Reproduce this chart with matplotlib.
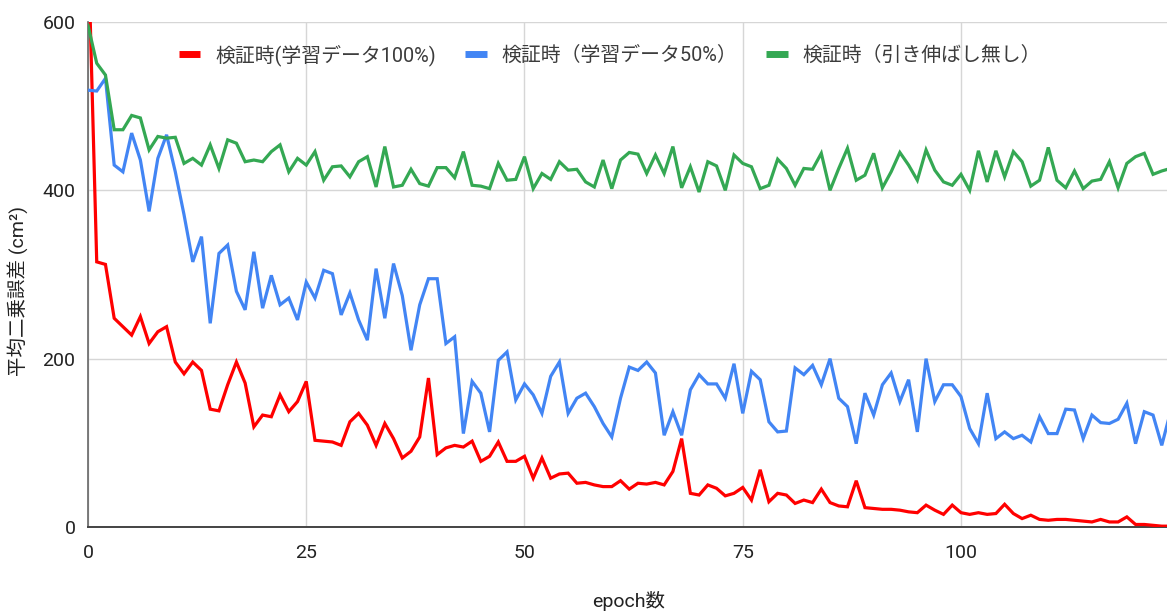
import matplotlib
matplotlib.use("Agg")
import matplotlib.pyplot as plt
import numpy as np

plt.rcParams['font.family'] = ['Roboto', 'Noto Sans CJK JP', 'DejaVu Sans']

epochs = list(range(0, 125))

red_100 = [700, 315, 312, 248, 238, 228, 250, 218, 232, 238,
           196, 182, 196, 186, 140, 138, 169, 196, 171, 119,
           133, 131, 157, 137, 149, 173, 103, 102, 101, 97,
           125, 135, 121, 97, 123, 105, 82, 90, 107, 177,
           86, 94, 97, 95, 102, 78, 84, 101, 78, 78,
           84, 58, 82, 58, 63, 64, 52, 53, 50, 48,
           48, 55, 45, 52, 51, 53, 50, 66, 105, 40,
           38, 50, 46, 37, 40, 47, 32, 68, 30, 40,
           38, 28, 32, 29, 45, 29, 25, 24, 55, 23,
           22, 21, 21, 20, 18, 17, 26, 20, 15, 26,
           17, 15, 17, 15, 16, 27, 16, 10, 14, 9,
           8, 9, 9, 8, 7, 6, 9, 6, 6, 12,
           3, 3, 2, 1, 1]

blue_50 = [519, 518, 533, 430, 422, 468, 436, 375, 438, 466,
           422, 371, 315, 345, 242, 325, 335, 280, 258, 327,
           260, 299, 264, 272, 246, 291, 272, 305, 301, 252,
           278, 246, 222, 307, 248, 313, 275, 210, 264, 295,
           295, 218, 226, 111, 173, 159, 113, 198, 208, 151,
           170, 157, 135, 179, 196, 135, 153, 159, 143, 123,
           107, 153, 190, 186, 196, 183, 109, 137, 109, 163,
           181, 170, 170, 153, 194, 135, 185, 175, 125, 113,
           114, 189, 181, 192, 169, 200, 153, 143, 99, 159,
           133, 169, 183, 149, 175, 113, 200, 149, 169, 169,
           155, 117, 99, 159, 105, 113, 105, 109, 101, 131,
           111, 111, 140, 139, 105, 133, 124, 123, 128, 147,
           99, 137, 133, 97, 137]

green_raw = [596, 551, 537, 472, 472, 489, 486, 448, 464, 462,
             463, 432, 438, 430, 454, 426, 460, 456, 434, 436,
             434, 446, 454, 422, 438, 430, 446, 412, 428, 429,
             416, 434, 440, 404, 452, 404, 406, 425, 408, 405,
             427, 427, 415, 446, 406, 405, 402, 432, 412, 413,
             440, 402, 420, 413, 434, 424, 425, 410, 404, 436,
             402, 436, 445, 443, 420, 442, 420, 452, 403, 428,
             398, 434, 429, 400, 442, 432, 428, 402, 406, 437,
             426, 406, 426, 425, 444, 400, 426, 450, 412, 418,
             444, 403, 422, 445, 430, 412, 448, 424, 410, 406,
             419, 400, 447, 410, 447, 416, 446, 434, 405, 412,
             451, 412, 403, 423, 402, 411, 413, 434, 403, 432,
             440, 444, 419, 423, 426]

labels = ['検証時(学習データ100%)', '検証時（学習データ50%）', '検証時（引き伸ばし無し）']
colors = ['#ff0000', '#4285f4', '#34a853']
x_ticks = [0, 25, 50, 75, 100]
y_ticks = [0, 200, 400, 600]

W, H = 1167, 615
fig = plt.figure(figsize=(W / 100, H / 100), dpi=100)
ax = fig.add_axes([88 / W, 1 - 527 / H, (W - 88) / W, (527 - 22) / H])

for series, lab, c in zip([red_100, blue_50, green_raw], labels, colors):
    ax.plot(epochs, series, color=c, lw=2.3, label=lab, zorder=3,
            solid_joinstyle='miter')

ax.set_xlim(0, 123.6)
ax.set_ylim(0, 600)
ax.set_xticks(x_ticks)
ax.set_yticks(y_ticks)
ax.grid(True, color='#d6d6d6', lw=1.0, zorder=0)
ax.set_axisbelow(True)
for s in ['top', 'right']:
    ax.spines[s].set_visible(False)
ax.spines['left'].set_color('#666666')
ax.spines['left'].set_linewidth(1.2)
ax.spines['bottom'].set_color('#444444')
ax.spines['bottom'].set_linewidth(1.4)
ax.tick_params(axis='both', length=0, labelsize=14, colors='#222222')
ax.tick_params(axis='x', pad=12)
ax.tick_params(axis='y', pad=9)

leg = ax.legend(loc='center', bbox_to_anchor=((610 - 88) / (W - 88), (527 - 55) / 505),
                ncol=3, frameon=False, fontsize=14.3, handlelength=1.1,
                handletextpad=0.75, columnspacing=1.45)
for line in leg.get_lines():
    line.set_linewidth(5)
    line.set_solid_capstyle('butt')
for t in leg.get_texts():
    t.set_color('#3c3c3c')

fig.text(18 / W, 1 - 291 / H, '平均二乗誤差 (cm²)', rotation=90, ha='center', va='center',
         fontsize=14, color='#222222')
fig.text(629 / W, 1 - 601 / H, 'epoch数', ha='center', va='center',
         fontsize=14, color='#222222')

fig.savefig('out.png', dpi=100)
